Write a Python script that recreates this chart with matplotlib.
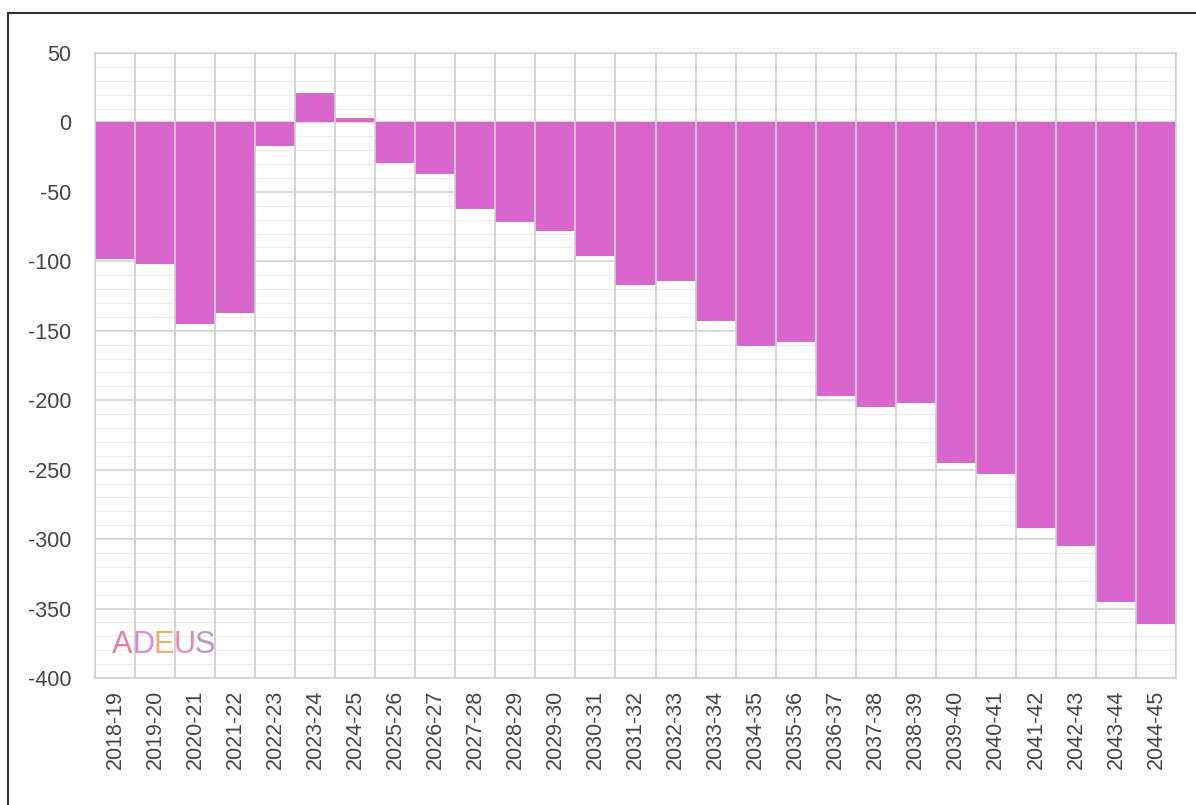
import numpy as np
import matplotlib.pyplot as plt
from matplotlib.patches import Rectangle

plt.rcParams['font.family'] = ['Liberation Sans', 'DejaVu Sans']

# school years
years = ['2018-19', '2019-20', '2020-21', '2021-22', '2022-23', '2023-24',
         '2024-25', '2025-26', '2026-27', '2027-28', '2028-29', '2029-30',
         '2030-31', '2031-32', '2032-33', '2033-34', '2034-35', '2035-36',
         '2036-37', '2037-38', '2038-39', '2039-40', '2040-41', '2041-42',
         '2042-43', '2043-44', '2044-45']

# values
values = [-98, -102, -145, -137, -17, 21, 3, -29, -37, -62, -72, -78,
          -96, -117, -114, -143, -161, -158, -197, -205, -202, -245,
          -253, -292, -305, -345, -361]

yticks = [50, 0, -50, -100, -150, -200, -250, -300, -350, -400]

bar_color = '#d966cc'
grid_major = '#cfcfcf'
grid_minor = '#ececec'
text_color = '#444444'

fig = plt.figure(figsize=(11.96, 8.05), dpi=100)
fig.patches.append(Rectangle((8 / 1196, -0.1), 1.2, 1 - 13 / 805 + 0.1,
                             transform=fig.transFigure, fill=False,
                             edgecolor='#333333', linewidth=1.5))

ax = fig.add_axes([0.0794, 0.1578, 0.9039, 0.7764])

x = np.arange(len(years))
ax.bar(x, values, width=1.0, color=bar_color, edgecolor='none', zorder=2)

ax.set_xlim(-0.5, len(years) - 0.5)
ax.set_ylim(-400, 50)

# horizontal grid: minor every 10, major every 50
for y in range(-400, 51, 10):
    if y % 50 == 0:
        ax.axhline(y, color=grid_major, linewidth=1.1, zorder=1)
    else:
        ax.axhline(y, color=grid_minor, linewidth=0.8, zorder=1)

# vertical lines between categories, drawn over the bars
for b in np.arange(-0.5, len(years), 1.0):
    ax.axvline(b, color=grid_major, linewidth=1.3, zorder=3)

ax.set_yticks(yticks)
ax.set_yticklabels([str(t) for t in yticks])
ax.set_xticks(x)
ax.set_xticklabels(years, rotation=90)
ax.tick_params(axis='both', length=0, labelsize=15.5, labelcolor=text_color)
ax.tick_params(axis='y', pad=17)
ax.tick_params(axis='x', pad=8.5)

for s in ax.spines.values():
    s.set_color(grid_major)
    s.set_linewidth(1.1)

# ADEUS logo, one colour per letter, placed side by side
letters = ['A', 'D', 'E', 'U', 'S']
logo_colors = ['#ea6f8c', '#d77fcf', '#f0a45a', '#e27ca8', '#b48cc4']
renderer = fig.canvas.get_renderer()
inv = ax.transAxes.inverted()
xpos = 0.016
for ch, c in zip(letters, logo_colors):
    t = ax.text(xpos, 0.053, ch, transform=ax.transAxes, fontsize=22,
                color=c, alpha=0.9, va='center', zorder=4)
    bb = t.get_window_extent(renderer)
    w = inv.transform((bb.x1, 0))[0] - inv.transform((bb.x0, 0))[0]
    xpos += w * 0.97

fig.savefig('out.png', dpi=100)
